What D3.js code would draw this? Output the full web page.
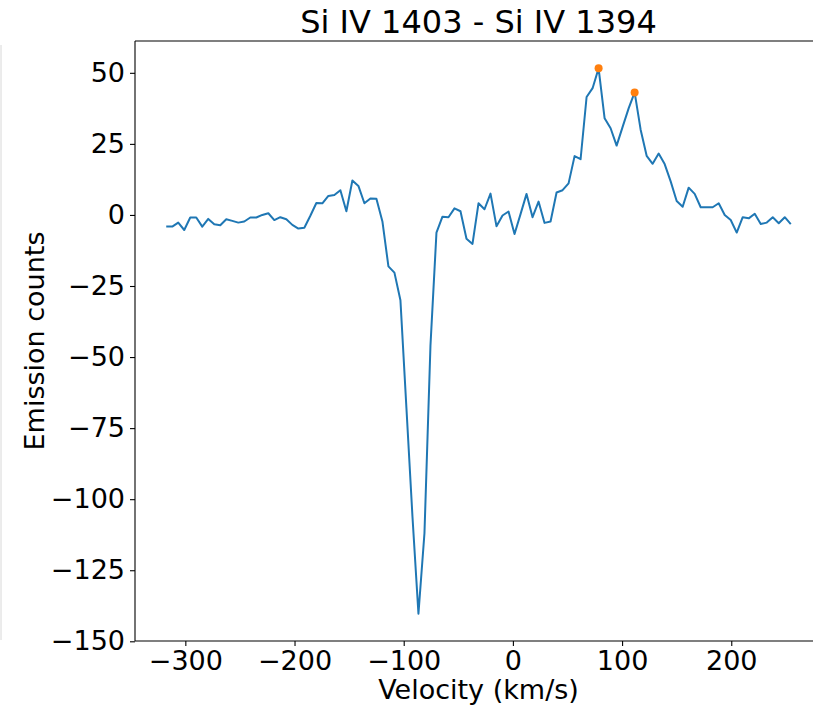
<!DOCTYPE html>
<html>
<head>
<meta charset="utf-8">
<script src="https://cdn.jsdelivr.net/npm/d3@7"></script>
<style>
  html, body { margin: 0; padding: 0; background: #fff; }
  svg { display: block; font-family: "DejaVu Sans", sans-serif; }
</style>
</head>
<body>
<svg id="chart" width="813" height="707"></svg>
<script>
// ---- data ----
const titleText = "Si IV 1403 - Si IV 1394";
const xLabel = "Velocity (km/s)";
const yLabel = "Emission counts";

const velocity = [
  -317.5, -312.0, -306.5, -301.0, -295.5, -290.0, -284.5, -279.0, -273.5, -268.0,
  -262.5, -257.0, -251.5, -246.0, -240.5, -235.0, -229.5, -224.0, -218.5, -213.0,
  -207.5, -202.0, -196.5, -191.0, -185.5, -180.0, -174.5, -169.0, -163.5, -158.0,
  -152.5, -147.0, -141.5, -136.0, -130.5, -125.0, -119.5, -114.0, -108.5, -103.0,
  -97.5, -92.0, -86.5, -81.0, -75.5, -70.0, -64.5, -59.0, -53.5, -48.0,
  -42.5, -37.0, -31.5, -26.0, -20.5, -15.0, -9.5, -4.0, 1.5, 7.0,
  12.5, 18.0, 23.5, 29.0, 34.5, 40.0, 45.5, 51.0, 56.5, 62.0,
  67.5, 73.0, 78.5, 84.0, 89.5, 95.0, 100.5, 106.0, 111.5, 117.0,
  122.5, 128.0, 133.5, 139.0, 144.5, 150.0, 155.5, 161.0, 166.5, 172.0,
  177.5, 183.0, 188.5, 194.0, 199.5, 205.0, 210.5, 216.0, 221.5, 227.0,
  232.5, 238.0, 243.5, 249.0, 254.5
];

const counts = [
  -4.1, -4.1, -2.7, -5.3, -0.9, -0.9, -4.1, -1.4, -3.3, -3.6,
  -1.5, -2.1, -2.7, -2.3, -0.9, -0.9, 0.0, 0.6, -1.8, -0.8,
  -1.5, -3.5, -4.8, -4.5, -0.3, 4.2, 4.1, 6.7, 7.0, 8.7,
  1.3, 12.1, 10.2, 4.1, 5.8, 5.7, -2.3, -18.1, -20.3, -30.0,
  -68.0, -106.0, -140.3, -112.0, -46.0, -6.2, -0.6, -0.8, 2.3, 1.3,
  -8.4, -10.2, 4.1, 2.0, 7.5, -4.0, -0.2, 1.2, -6.7, 0.3,
  7.4, -0.8, 4.7, -2.8, -2.3, 7.9, 8.7, 11.1, 20.7, 19.6,
  41.5, 44.6, 51.6, 34.0, 30.5, 24.4, 31.0, 37.5, 43.1, 30.0,
  20.8, 18.0, 21.6, 17.9, 11.8, 4.9, 2.9, 9.6, 7.4, 2.7,
  2.7, 2.7, 4.1, 0.0, -1.8, -6.2, -0.8, -1.2, 0.4, -3.2,
  -2.7, -0.8, -2.9, -0.8, -3.2
];

// detected peaks (velocity, counts)
const peakVelocity = [78.5, 111.5];
const peakCounts = [51.6, 43.1];

const xTicks = [-300, -200, -100, 0, 100, 200];
const yTicks = [50, 25, 0, -25, -50, -75, -100, -125, -150];

// ---- layout ----
const margin = { left: 135, right: 822, top: 41, bottom: 641 };
const svg = d3.select("#chart");

// matplotlib-like 5% autoscale margins
const xExt = d3.extent(velocity), yExt = d3.extent(counts);
const xPad = (xExt[1] - xExt[0]) * 0.05, yPad = (yExt[1] - yExt[0]) * 0.05;

const x = d3.scaleLinear().domain([xExt[0] - xPad, xExt[1] + xPad]).range([margin.left, margin.right]);
const y = d3.scaleLinear().domain([yExt[0] - yPad, yExt[1] + yPad]).range([margin.bottom, margin.top]);

const minus = s => String(s).replace("-", "\u2212");

// faint edge line at the far left (from neighbouring panel)
svg.append("line").attr("x1", 1).attr("x2", 1).attr("y1", 45).attr("y2", 640)
  .attr("stroke", "#d8d8d8").attr("stroke-width", 1);

// line
const line = d3.line().x((d, i) => x(velocity[i])).y(d => y(d));
svg.append("path").datum(counts)
  .attr("d", line)
  .attr("fill", "none")
  .attr("stroke", "#1f77b4")
  .attr("stroke-width", 2)
  .attr("stroke-linejoin", "round");

// peaks
svg.selectAll("circle.peak").data(peakVelocity).enter().append("circle")
  .attr("class", "peak")
  .attr("cx", d => x(d))
  .attr("cy", (d, i) => y(peakCounts[i]))
  .attr("r", 4)
  .attr("fill", "#ff7f0e");

// axes
const xAxis = d3.axisBottom(x).tickValues(xTicks).tickSize(5).tickPadding(5).tickFormat(minus);
const yAxis = d3.axisLeft(y).tickValues(yTicks).tickSize(5).tickPadding(5).tickFormat(minus);

const gx = svg.append("g").attr("transform", `translate(0,${margin.bottom})`).call(xAxis);
const gy = svg.append("g").attr("transform", `translate(${margin.left},0)`).call(yAxis);

[gx, gy].forEach(g => {
  g.select(".domain").remove();
  g.selectAll(".tick line").attr("stroke", "#000").attr("stroke-width", 1.1);
  g.selectAll(".tick text").attr("fill", "#000").attr("font-size", 27)
    .attr("font-family", "DejaVu Sans, sans-serif");
});

// spines
[[margin.left, margin.top, margin.left, margin.bottom],
 [margin.left, margin.bottom, margin.right, margin.bottom],
 [margin.left, margin.top, margin.right, margin.top],
 [margin.right, margin.top, margin.right, margin.bottom]].forEach(s => {
  svg.append("line").attr("x1", s[0]).attr("y1", s[1]).attr("x2", s[2]).attr("y2", s[3])
    .attr("stroke", "#000").attr("stroke-width", 1.1);
});

// labels
svg.append("text")
  .attr("x", (margin.left + margin.right) / 2).attr("y", 33)
  .attr("text-anchor", "middle").attr("font-size", 32).attr("fill", "#000")
  .text(titleText);

svg.append("text")
  .attr("x", (margin.left + margin.right) / 2).attr("y", 699)
  .attr("text-anchor", "middle").attr("font-size", 27).attr("fill", "#000")
  .text(xLabel);

svg.append("text")
  .attr("transform", `translate(44,${(margin.top + margin.bottom) / 2}) rotate(-90)`)
  .attr("text-anchor", "middle").attr("font-size", 27).attr("fill", "#000")
  .text(yLabel);
</script>
</body>
</html>
